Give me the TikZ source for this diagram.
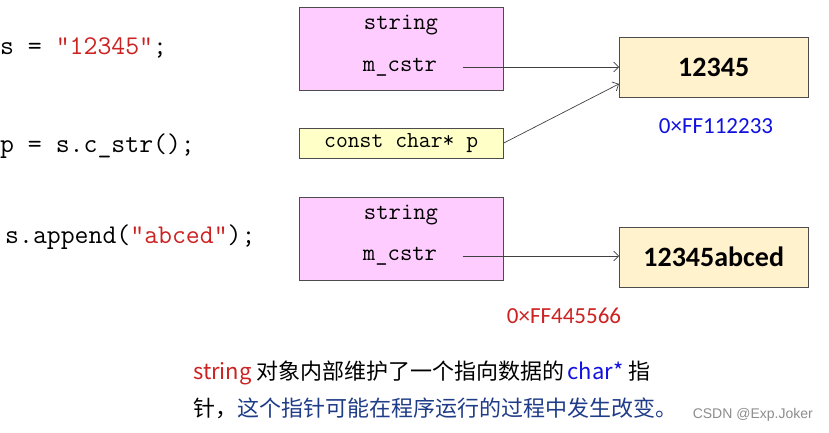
\documentclass[tikz,border=0pt]{standalone}
\usepackage{fontspec}
\setmainfont{Carlito}
\newfontfamily\cjk{Noto Sans CJK SC}
\newfontfamily\marca{Liberation Sans}
\usetikzlibrary{arrows.meta}

\definecolor{rosa}{HTML}{FFCCFF}
\definecolor{amarillo}{HTML}{FFFFC8}
\definecolor{crema}{HTML}{FFF2CC}
\definecolor{rojocod}{HTML}{CC2222}
\definecolor{azulfuerte}{HTML}{1010E0}
\definecolor{azuloscuro}{HTML}{1F3C88}

\begin{document}
\begin{tikzpicture}[x=1pt, y=-1pt, >={Straight Barb[length=5pt,width=10pt]},
    objeto/.style={draw=black!70, fill=rosa, minimum width=204pt, minimum height=83pt, anchor=north west, inner sep=0pt},
    puntero/.style={draw=black!70, fill=amarillo, minimum width=204pt, minimum height=30pt, anchor=north west, inner sep=0pt, font=\fontsize{23}{26}\ttfamily},
    datos/.style={draw=black!70, fill=crema, minimum width=189pt, minimum height=60pt, anchor=north west, inner sep=0pt, font=\fontsize{28}{32}\bfseries},
    codigo/.style={anchor=west, inner sep=0pt, font=\fontsize{27}{30}\ttfamily},
    campo/.style={font=\fontsize{24}{28}\ttfamily},
    flecha/.style={->, draw=black!75, line width=0.7pt}]
  \useasboundingbox (0,0) rectangle (829,433);

  % Codigo
  \node[codigo] (c1) at (0,48) {s = \textcolor{rojocod}{"12345"};};
  \node[codigo] (c2) at (0,146) {p = s.c\_str();};
  \node[codigo] (c3) at (5,237) {s.append(\textcolor{rojocod}{"abced"});};

  % Objetos string
  \node[objeto] (s1) at (299,7) {};
  \node[campo] (t1) at (401,25) {string};
  \node[campo] (m1) at (400,67) {m\_cstr};
  \node[objeto] (s2) at (299,197) {};
  \node[campo] (t2) at (401,215) {string};
  \node[campo] (m2) at (400,256) {m\_cstr};

  % Puntero
  \node[puntero] (pc) at (299,128) {const char* p};

  % Datos
  \node[datos] (d1) at (619,37) {12345};
  \node[datos] (d2) at (619,227) {12345abced};
  \node[text=azulfuerte, font=\fontsize{23}{26}\selectfont] (a1) at (716,126) {0×FF112233};
  \node[text=rojocod, font=\fontsize{23}{26}\selectfont] (a2) at (564,316) {0×FF445566};

  % Flechas
  \draw[flecha, shorten <=22pt] (m1.east) -- (d1.west |- m1.east);
  \draw[flecha] (pc.east) -- (d1.190);
  \draw[flecha, shorten <=22pt] (m2.east) -- (d2.west |- m2.east);

  % Nota
  \node[anchor=west, inner sep=0pt, font=\fontsize{22}{26}\cjk] (n1) at (193,373)
    {\textcolor{rojocod}{string} 对象内部维护了一个指向数据的\hspace{3pt}\textcolor{azulfuerte}{char*} 指};
  \node[anchor=west, inner sep=0pt, font=\fontsize{22}{26}\cjk] (n2) at (193,408)
    {针，\textcolor{azuloscuro}{这个指针可能在程序运行的过程中发生改变。}};
  \node[anchor=east, inner sep=0pt, text=black!45, font=\fontsize{14}{16}\marca] (w) at (813,415) {CSDN @Exp.Joker};
\end{tikzpicture}
\end{document}
